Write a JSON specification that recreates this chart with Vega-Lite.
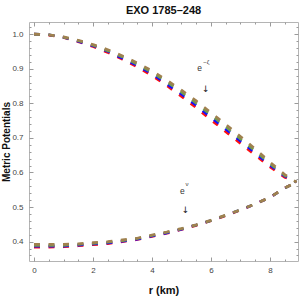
{
  "$schema": "https://vega.github.io/schema/vega-lite/v6.json",
  "width": 269,
  "height": 239,
  "autosize": {"type": "none"},
  "padding": {"left": 29, "top": 22, "right": 2, "bottom": 39},
  "background": "white",
  "config": {
    "view": {"stroke": "#b4b4b4", "strokeWidth": 1},
    "font": "Liberation Sans",
    "axis": {"labelFont": "Liberation Sans", "labelFontSize": 8, "labelColor": "#444444", "titleFont": "Liberation Sans", "titleFontWeight": "bold", "titleColor": "#111111", "grid": false, "domain": false, "tickColor": "#9a9a9a"}
  },
  "title": {"text": "EXO 1785–248", "fontSize": 11, "fontWeight": "bold", "font": "Liberation Sans", "color": "#111111", "offset": 6, "anchor": "middle"},
  "datasets": {
    "curves": [
      {"s": "red", "r": 0, "up": 1.000, "lo": 0.384},
      {"s": "red", "r": 0.5, "up": 0.997, "lo": 0.384},
      {"s": "red", "r": 1, "up": 0.990, "lo": 0.385},
      {"s": "red", "r": 1.5, "up": 0.978, "lo": 0.388},
      {"s": "red", "r": 2, "up": 0.964, "lo": 0.391},
      {"s": "red", "r": 2.5, "up": 0.947, "lo": 0.394},
      {"s": "red", "r": 3, "up": 0.927, "lo": 0.400},
      {"s": "red", "r": 3.5, "up": 0.905, "lo": 0.406},
      {"s": "red", "r": 4, "up": 0.880, "lo": 0.415},
      {"s": "red", "r": 4.5, "up": 0.851, "lo": 0.424},
      {"s": "red", "r": 5, "up": 0.820, "lo": 0.435},
      {"s": "red", "r": 5.5, "up": 0.787, "lo": 0.447},
      {"s": "red", "r": 6, "up": 0.752, "lo": 0.460},
      {"s": "red", "r": 6.5, "up": 0.718, "lo": 0.475},
      {"s": "red", "r": 7, "up": 0.684, "lo": 0.491},
      {"s": "red", "r": 7.5, "up": 0.650, "lo": 0.509},
      {"s": "red", "r": 8, "up": 0.616, "lo": 0.528},
      {"s": "red", "r": 8.5, "up": 0.586, "lo": 0.555},
      {"s": "red", "r": 8.9, "up": 0.572, "lo": 0.572},
      {"s": "blue", "r": 0, "up": 1.000, "lo": 0.387},
      {"s": "blue", "r": 0.5, "up": 0.998, "lo": 0.387},
      {"s": "blue", "r": 1, "up": 0.991, "lo": 0.387},
      {"s": "blue", "r": 1.5, "up": 0.979, "lo": 0.390},
      {"s": "blue", "r": 2, "up": 0.966, "lo": 0.393},
      {"s": "blue", "r": 2.5, "up": 0.950, "lo": 0.396},
      {"s": "blue", "r": 3, "up": 0.930, "lo": 0.401},
      {"s": "blue", "r": 3.5, "up": 0.909, "lo": 0.407},
      {"s": "blue", "r": 4, "up": 0.885, "lo": 0.416},
      {"s": "blue", "r": 4.5, "up": 0.856, "lo": 0.425},
      {"s": "blue", "r": 5, "up": 0.826, "lo": 0.436},
      {"s": "blue", "r": 5.5, "up": 0.794, "lo": 0.448},
      {"s": "blue", "r": 6, "up": 0.759, "lo": 0.461},
      {"s": "blue", "r": 6.5, "up": 0.725, "lo": 0.476},
      {"s": "blue", "r": 7, "up": 0.691, "lo": 0.492},
      {"s": "blue", "r": 7.5, "up": 0.656, "lo": 0.509},
      {"s": "blue", "r": 8, "up": 0.621, "lo": 0.528},
      {"s": "blue", "r": 8.5, "up": 0.589, "lo": 0.555},
      {"s": "blue", "r": 8.9, "up": 0.572, "lo": 0.572},
      {"s": "green", "r": 0, "up": 1.000, "lo": 0.389},
      {"s": "green", "r": 0.5, "up": 0.998, "lo": 0.389},
      {"s": "green", "r": 1, "up": 0.991, "lo": 0.389},
      {"s": "green", "r": 1.5, "up": 0.981, "lo": 0.392},
      {"s": "green", "r": 2, "up": 0.968, "lo": 0.395},
      {"s": "green", "r": 2.5, "up": 0.952, "lo": 0.398},
      {"s": "green", "r": 3, "up": 0.934, "lo": 0.403},
      {"s": "green", "r": 3.5, "up": 0.913, "lo": 0.409},
      {"s": "green", "r": 4, "up": 0.889, "lo": 0.418},
      {"s": "green", "r": 4.5, "up": 0.862, "lo": 0.427},
      {"s": "green", "r": 5, "up": 0.832, "lo": 0.437},
      {"s": "green", "r": 5.5, "up": 0.800, "lo": 0.448},
      {"s": "green", "r": 6, "up": 0.766, "lo": 0.461},
      {"s": "green", "r": 6.5, "up": 0.732, "lo": 0.476},
      {"s": "green", "r": 7, "up": 0.697, "lo": 0.492},
      {"s": "green", "r": 7.5, "up": 0.662, "lo": 0.509},
      {"s": "green", "r": 8, "up": 0.625, "lo": 0.528},
      {"s": "green", "r": 8.5, "up": 0.591, "lo": 0.555},
      {"s": "green", "r": 8.9, "up": 0.572, "lo": 0.572},
      {"s": "brown", "r": 0, "up": 1.000, "lo": 0.392},
      {"s": "brown", "r": 0.5, "up": 0.998, "lo": 0.392},
      {"s": "brown", "r": 1, "up": 0.992, "lo": 0.392},
      {"s": "brown", "r": 1.5, "up": 0.982, "lo": 0.394},
      {"s": "brown", "r": 2, "up": 0.970, "lo": 0.397},
      {"s": "brown", "r": 2.5, "up": 0.955, "lo": 0.400},
      {"s": "brown", "r": 3, "up": 0.937, "lo": 0.405},
      {"s": "brown", "r": 3.5, "up": 0.917, "lo": 0.410},
      {"s": "brown", "r": 4, "up": 0.894, "lo": 0.419},
      {"s": "brown", "r": 4.5, "up": 0.867, "lo": 0.428},
      {"s": "brown", "r": 5, "up": 0.838, "lo": 0.438},
      {"s": "brown", "r": 5.5, "up": 0.807, "lo": 0.449},
      {"s": "brown", "r": 6, "up": 0.773, "lo": 0.462},
      {"s": "brown", "r": 6.5, "up": 0.739, "lo": 0.477},
      {"s": "brown", "r": 7, "up": 0.704, "lo": 0.492},
      {"s": "brown", "r": 7.5, "up": 0.668, "lo": 0.509},
      {"s": "brown", "r": 8, "up": 0.630, "lo": 0.528},
      {"s": "brown", "r": 8.5, "up": 0.594, "lo": 0.555},
      {"s": "brown", "r": 8.9, "up": 0.572, "lo": 0.572}
    ],
    "base": [
      {"r": 5.61, "v": 0.901, "t": "e"},
      {"r": 5.03, "v": 0.545, "t": "e"}
    ],
    "sup": [
      {"r": 5.84, "v": 0.918, "t": "−ζ"},
      {"r": 5.19, "v": 0.566, "t": "ν"}
    ],
    "arrows": [
      {"r": 5.82, "v": 0.840, "t": "↓"},
      {"r": 5.14, "v": 0.491, "t": "↓"}
    ]
  },
  "resolve": {"axis": {"x": "independent", "y": "independent"}},
  "layer": [
    {
      "data": {"name": "curves"},
      "mark": {"type": "line", "strokeWidth": 2.6, "strokeDash": [6, 8.5], "clip": true},
      "encoding": {
        "x": {"field": "r", "type": "quantitative", "scale": {"domain": [-0.17, 8.95], "nice": false, "zero": false},
              "axis": {"orient": "bottom", "ticks": false, "values": [0, 2, 4, 6, 8], "labelPadding": 5, "title": "r (km)", "titleFontSize": 11, "titlePadding": 10}},
        "y": {"field": "up", "type": "quantitative", "scale": {"domain": [0.344, 1.035], "nice": false, "zero": false},
              "axis": {"orient": "left", "ticks": false, "values": [0.4, 0.5, 0.6, 0.7, 0.8, 0.9, 1.0], "format": ".1f", "labelPadding": 6, "title": "Metric Potentials", "titleFontSize": 10, "titlePadding": 0}},
        "color": {"field": "s", "type": "nominal", "legend": null, "sort": ["red", "blue", "green", "brown"],
                  "scale": {"domain": ["red", "blue", "green", "brown"], "range": ["#ff1010", "#1010ff", "#6f9a4f", "#a0814f"]}}
      }
    },
    {
      "data": {"name": "curves"},
      "mark": {"type": "line", "strokeWidth": 2.6, "strokeDash": [6, 8.5], "clip": true},
      "encoding": {
        "x": {"field": "r", "type": "quantitative",
              "axis": {"orient": "bottom", "labels": false, "title": null, "values": [0, 0.5, 1, 1.5, 2, 2.5, 3, 3.5, 4, 4.5, 5, 5.5, 6, 6.5, 7, 7.5, 8, 8.5],
                       "tickSize": {"condition": {"test": "datum.value % 2 === 0", "value": -4}, "value": -2}}},
        "y": {"field": "lo", "type": "quantitative",
              "axis": {"orient": "left", "labels": false, "title": null, "values": [0.36, 0.38, 0.4, 0.42, 0.44, 0.46, 0.48, 0.5, 0.52, 0.54, 0.56, 0.58, 0.6, 0.62, 0.64, 0.66, 0.68, 0.7, 0.72, 0.74, 0.76, 0.78, 0.8, 0.82, 0.84, 0.86, 0.88, 0.9, 0.92, 0.94, 0.96, 0.98, 1.0, 1.02],
                       "tickSize": {"condition": {"test": "abs(datum.value * 10 - round(datum.value * 10)) < 0.01", "value": -4}, "value": -2}}},
        "color": {"field": "s", "type": "nominal", "legend": null, "sort": ["red", "blue", "green", "brown"]}
      }
    },
    {
      "data": {"name": "base"},
      "mark": {"type": "text", "fontSize": 8.5, "color": "#333333", "font": "Liberation Sans"},
      "encoding": {
        "x": {"field": "r", "type": "quantitative",
              "axis": {"orient": "top", "labels": false, "title": null, "values": [0, 0.5, 1, 1.5, 2, 2.5, 3, 3.5, 4, 4.5, 5, 5.5, 6, 6.5, 7, 7.5, 8, 8.5],
                       "tickSize": {"condition": {"test": "datum.value % 2 === 0", "value": -4}, "value": -2}}},
        "y": {"field": "v", "type": "quantitative",
              "axis": {"orient": "right", "labels": false, "title": null, "values": [0.36, 0.38, 0.4, 0.42, 0.44, 0.46, 0.48, 0.5, 0.52, 0.54, 0.56, 0.58, 0.6, 0.62, 0.64, 0.66, 0.68, 0.7, 0.72, 0.74, 0.76, 0.78, 0.8, 0.82, 0.84, 0.86, 0.88, 0.9, 0.92, 0.94, 0.96, 0.98, 1.0, 1.02],
                       "tickSize": {"condition": {"test": "abs(datum.value * 10 - round(datum.value * 10)) < 0.01", "value": -4}, "value": -2}}},
        "text": {"field": "t"}
      }
    },
    {
      "data": {"name": "sup"},
      "mark": {"type": "text", "fontSize": 6, "color": "#333333", "font": "Liberation Sans"},
      "encoding": {
        "x": {"field": "r", "type": "quantitative", "axis": null},
        "y": {"field": "v", "type": "quantitative", "axis": null},
        "text": {"field": "t"}
      }
    },
    {
      "data": {"name": "arrows"},
      "mark": {"type": "text", "fontSize": 9, "color": "#222222", "font": "DejaVu Sans"},
      "encoding": {
        "x": {"field": "r", "type": "quantitative", "axis": null},
        "y": {"field": "v", "type": "quantitative", "axis": null},
        "text": {"field": "t"}
      }
    }
  ]
}
